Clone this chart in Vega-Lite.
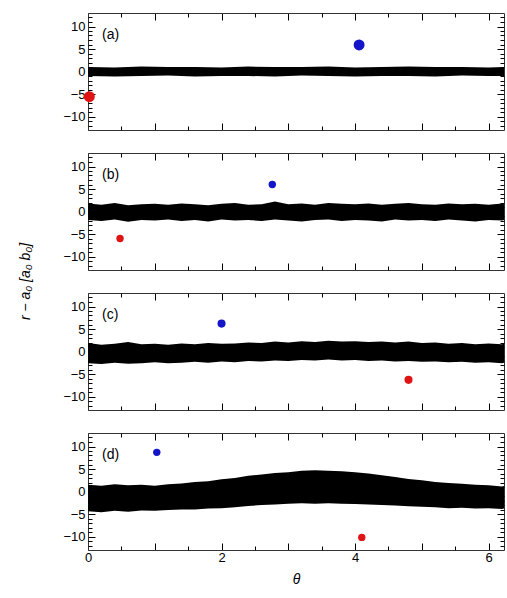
{
  "$schema": "https://vega.github.io/schema/vega-lite/v6.json",
  "padding": {"left": 18, "top": 12, "right": 2, "bottom": 4},
  "spacing": 23,
  "bounds": "flush",
  "config": {
    "view": {"stroke": null},
    "axis": {"grid": false, "domainColor": "#333", "tickColor": "#000", "labelColor": "#000", "labelFont": "Liberation Sans", "labelFontSize": 13, "labelFlush": false, "titleFont": "Liberation Sans", "titleColor": "#000", "titleFontWeight": "normal"}
  },
  "datasets": {
    "band": [
      {"p":"a","theta":0,"lo":-1.0,"hi":1.0},{"p":"a","theta":0.4,"lo":-1.1,"hi":0.9},{"p":"a","theta":0.8,"lo":-1.0,"hi":1.1},{"p":"a","theta":1.2,"lo":-0.9,"hi":1.0},{"p":"a","theta":1.6,"lo":-1.1,"hi":1.0},{"p":"a","theta":2.0,"lo":-1.0,"hi":0.9},{"p":"a","theta":2.4,"lo":-1.0,"hi":1.1},{"p":"a","theta":2.8,"lo":-1.1,"hi":1.0},{"p":"a","theta":3.2,"lo":-0.9,"hi":1.0},{"p":"a","theta":3.6,"lo":-1.0,"hi":1.1},{"p":"a","theta":4.0,"lo":-1.1,"hi":0.9},{"p":"a","theta":4.4,"lo":-1.0,"hi":1.0},{"p":"a","theta":4.8,"lo":-1.0,"hi":1.1},{"p":"a","theta":5.2,"lo":-1.1,"hi":1.0},{"p":"a","theta":5.6,"lo":-0.9,"hi":1.0},{"p":"a","theta":6.0,"lo":-1.0,"hi":0.9},{"p":"a","theta":6.23,"lo":-1.0,"hi":1.0},
      {"p":"b","theta":0,"lo":-1.9,"hi":1.8},{"p":"b","theta":0.2,"lo":-2.1,"hi":1.5},{"p":"b","theta":0.4,"lo":-1.8,"hi":1.9},{"p":"b","theta":0.6,"lo":-2.3,"hi":1.4},{"p":"b","theta":0.8,"lo":-1.9,"hi":1.6},{"p":"b","theta":1.0,"lo":-2.0,"hi":1.7},{"p":"b","theta":1.2,"lo":-1.8,"hi":1.5},{"p":"b","theta":1.4,"lo":-2.1,"hi":1.8},{"p":"b","theta":1.6,"lo":-1.9,"hi":1.6},{"p":"b","theta":1.8,"lo":-2.2,"hi":1.4},{"p":"b","theta":2.0,"lo":-1.8,"hi":1.7},{"p":"b","theta":2.2,"lo":-2.0,"hi":1.9},{"p":"b","theta":2.4,"lo":-1.9,"hi":1.5},{"p":"b","theta":2.6,"lo":-2.1,"hi":1.6},{"p":"b","theta":2.8,"lo":-1.8,"hi":2.2},{"p":"b","theta":3.0,"lo":-2.0,"hi":1.6},{"p":"b","theta":3.2,"lo":-2.2,"hi":1.8},{"p":"b","theta":3.4,"lo":-1.9,"hi":1.5},{"p":"b","theta":3.6,"lo":-1.8,"hi":1.9},{"p":"b","theta":3.8,"lo":-2.1,"hi":1.7},{"p":"b","theta":4.0,"lo":-1.9,"hi":1.6},{"p":"b","theta":4.2,"lo":-2.0,"hi":1.8},{"p":"b","theta":4.4,"lo":-2.2,"hi":1.5},{"p":"b","theta":4.6,"lo":-1.8,"hi":1.7},{"p":"b","theta":4.8,"lo":-2.0,"hi":1.9},{"p":"b","theta":5.0,"lo":-1.9,"hi":1.6},{"p":"b","theta":5.2,"lo":-2.1,"hi":1.5},{"p":"b","theta":5.4,"lo":-1.8,"hi":1.8},{"p":"b","theta":5.6,"lo":-2.0,"hi":1.6},{"p":"b","theta":5.8,"lo":-2.2,"hi":1.7},{"p":"b","theta":6.0,"lo":-1.9,"hi":1.5},{"p":"b","theta":6.2,"lo":-2.0,"hi":1.8},{"p":"b","theta":6.23,"lo":-1.9,"hi":1.6},
      {"p":"c","theta":0,"lo":-2.6,"hi":1.9},{"p":"c","theta":0.2,"lo":-2.8,"hi":1.5},{"p":"c","theta":0.4,"lo":-2.5,"hi":1.7},{"p":"c","theta":0.6,"lo":-2.7,"hi":2.1},{"p":"c","theta":0.8,"lo":-2.6,"hi":1.6},{"p":"c","theta":1.0,"lo":-2.4,"hi":1.7},{"p":"c","theta":1.2,"lo":-2.6,"hi":1.5},{"p":"c","theta":1.4,"lo":-2.5,"hi":1.8},{"p":"c","theta":1.6,"lo":-2.3,"hi":1.6},{"p":"c","theta":1.8,"lo":-2.5,"hi":1.9},{"p":"c","theta":2.0,"lo":-2.2,"hi":1.7},{"p":"c","theta":2.2,"lo":-2.4,"hi":1.8},{"p":"c","theta":2.4,"lo":-2.1,"hi":2.0},{"p":"c","theta":2.6,"lo":-2.2,"hi":1.9},{"p":"c","theta":2.8,"lo":-2.0,"hi":2.2},{"p":"c","theta":3.0,"lo":-2.1,"hi":2.0},{"p":"c","theta":3.2,"lo":-1.9,"hi":2.3},{"p":"c","theta":3.4,"lo":-2.0,"hi":2.1},{"p":"c","theta":3.6,"lo":-1.8,"hi":2.4},{"p":"c","theta":3.8,"lo":-2.0,"hi":2.2},{"p":"c","theta":4.0,"lo":-1.9,"hi":2.3},{"p":"c","theta":4.2,"lo":-2.1,"hi":2.1},{"p":"c","theta":4.4,"lo":-2.0,"hi":2.2},{"p":"c","theta":4.6,"lo":-2.2,"hi":2.0},{"p":"c","theta":4.8,"lo":-2.1,"hi":2.2},{"p":"c","theta":5.0,"lo":-2.3,"hi":1.9},{"p":"c","theta":5.2,"lo":-2.2,"hi":2.0},{"p":"c","theta":5.4,"lo":-2.4,"hi":1.7},{"p":"c","theta":5.6,"lo":-2.3,"hi":1.9},{"p":"c","theta":5.8,"lo":-2.5,"hi":1.6},{"p":"c","theta":6.0,"lo":-2.4,"hi":1.8},{"p":"c","theta":6.2,"lo":-2.6,"hi":1.6},{"p":"c","theta":6.23,"lo":-2.5,"hi":1.7},
      {"p":"d","theta":0,"lo":-4.4,"hi":1.5},{"p":"d","theta":0.2,"lo":-4.6,"hi":1.3},{"p":"d","theta":0.4,"lo":-4.3,"hi":1.6},{"p":"d","theta":0.6,"lo":-4.5,"hi":1.4},{"p":"d","theta":0.8,"lo":-4.2,"hi":1.5},{"p":"d","theta":1.0,"lo":-4.3,"hi":1.3},{"p":"d","theta":1.2,"lo":-4.1,"hi":1.6},{"p":"d","theta":1.4,"lo":-4.0,"hi":1.8},{"p":"d","theta":1.6,"lo":-4.0,"hi":2.1},{"p":"d","theta":1.8,"lo":-3.8,"hi":2.3},{"p":"d","theta":2.0,"lo":-3.7,"hi":2.7},{"p":"d","theta":2.2,"lo":-3.5,"hi":3.0},{"p":"d","theta":2.4,"lo":-3.2,"hi":3.5},{"p":"d","theta":2.6,"lo":-3.0,"hi":3.8},{"p":"d","theta":2.8,"lo":-2.9,"hi":4.1},{"p":"d","theta":3.0,"lo":-2.7,"hi":4.3},{"p":"d","theta":3.2,"lo":-2.6,"hi":4.6},{"p":"d","theta":3.4,"lo":-2.7,"hi":4.7},{"p":"d","theta":3.6,"lo":-2.6,"hi":4.6},{"p":"d","theta":3.8,"lo":-2.7,"hi":4.5},{"p":"d","theta":4.0,"lo":-2.8,"hi":4.3},{"p":"d","theta":4.2,"lo":-2.9,"hi":4.0},{"p":"d","theta":4.4,"lo":-3.0,"hi":3.6},{"p":"d","theta":4.6,"lo":-3.1,"hi":3.2},{"p":"d","theta":4.8,"lo":-3.3,"hi":2.8},{"p":"d","theta":5.0,"lo":-3.4,"hi":2.5},{"p":"d","theta":5.2,"lo":-3.5,"hi":2.1},{"p":"d","theta":5.4,"lo":-3.7,"hi":1.9},{"p":"d","theta":5.6,"lo":-3.6,"hi":1.7},{"p":"d","theta":5.8,"lo":-3.8,"hi":1.5},{"p":"d","theta":6.0,"lo":-3.7,"hi":1.4},{"p":"d","theta":6.2,"lo":-3.9,"hi":1.1},{"p":"d","theta":6.23,"lo":-3.8,"hi":1.2}
    ],
    "pts": [
      {"p":"a","kind":"blue","theta":4.06,"r":5.9},{"p":"a","kind":"red","theta":0.02,"r":-5.6},
      {"p":"b","kind":"blue","theta":2.76,"r":6.0},{"p":"b","kind":"red","theta":0.48,"r":-6.0},
      {"p":"c","kind":"blue","theta":2.0,"r":6.2},{"p":"c","kind":"red","theta":4.8,"r":-6.3},
      {"p":"d","kind":"blue","theta":1.03,"r":8.7},{"p":"d","kind":"red","theta":4.1,"r":-10.2}
    ],
    "lab": [
      {"p":"a","theta":0.21,"r":8.2,"label":"(a)"},
      {"p":"b","theta":0.21,"r":8.2,"label":"(b)"},
      {"p":"c","theta":0.21,"r":8.2,"label":"(c)"},
      {"p":"d","theta":0.21,"r":8.2,"label":"(d)"}
    ]
  },
  "vconcat": [
    {
      "width": 416, "height": 117,
      "resolve": {"axis": {"x": "independent", "y": "independent"}},
      "layer": [
        {"data": {"name": "band"}, "transform": [{"filter": "datum.p=='a'"}],
         "mark": {"type": "area", "color": "#000", "opacity": 1},
         "encoding": {
           "x": {"field": "theta", "type": "quantitative", "scale": {"domain": [0, 6.23], "nice": false, "zero": false}, "axis": {"orient": "bottom", "values": [0,1,2,3,4,5,6], "tickSize": -7, "labels": false, "title": null}},
           "y": {"field": "lo", "type": "quantitative", "scale": {"domain": [-13, 13], "nice": false}, "axis": {"orient": "left", "values": [-10,-5,0,5,10], "tickSize": -7, "labelPadding": 10, "title": null}},
           "y2": {"field": "hi"}}},
        {"data": {"name": "pts"}, "transform": [{"filter": "datum.p=='a' && datum.kind=='blue'"}],
         "mark": {"type": "circle", "color": "#1414c8", "opacity": 1, "size": 120},
         "encoding": {
           "x": {"field": "theta", "type": "quantitative", "scale": {"domain": [0, 6.23], "nice": false, "zero": false}, "axis": {"orient": "bottom", "values": [0.5,1.5,2.5,3.5,4.5,5.5], "tickSize": -4, "labels": false, "domain": false, "title": null}},
           "y": {"field": "r", "type": "quantitative", "scale": {"domain": [-13, 13], "nice": false}, "axis": {"orient": "left", "values": [-12,-11,-9,-8,-7,-6,-4,-3,-2,-1,1,2,3,4,6,7,8,9,11,12], "tickSize": -4, "labels": false, "domain": false, "title": null}}}},
        {"data": {"name": "pts"}, "transform": [{"filter": "datum.p=='a' && datum.kind=='red'"}],
         "mark": {"type": "circle", "color": "#e01414", "opacity": 1, "size": 120},
         "encoding": {
           "x": {"field": "theta", "type": "quantitative", "scale": {"domain": [0, 6.23], "nice": false, "zero": false}, "axis": {"orient": "top", "values": [0,1,2,3,4,5,6], "tickSize": -7, "labels": false, "title": null}},
           "y": {"field": "r", "type": "quantitative", "scale": {"domain": [-13, 13], "nice": false}, "axis": {"orient": "right", "values": [-10,-5,0,5,10], "tickSize": -7, "labels": false, "title": null}}}},
        {"data": {"name": "lab"}, "transform": [{"filter": "datum.p=='a'"}],
         "mark": {"type": "text", "align": "left", "baseline": "middle", "font": "Liberation Sans", "fontSize": 14, "color": "#000"},
         "encoding": {
           "text": {"field": "label"},
           "x": {"field": "theta", "type": "quantitative", "scale": {"domain": [0, 6.23], "nice": false, "zero": false}, "axis": {"orient": "top", "values": [0.5,1.5,2.5,3.5,4.5,5.5], "tickSize": -4, "labels": false, "domain": false, "title": null}},
           "y": {"field": "r", "type": "quantitative", "scale": {"domain": [-13, 13], "nice": false}, "axis": {"orient": "right", "values": [-12,-11,-9,-8,-7,-6,-4,-3,-2,-1,1,2,3,4,6,7,8,9,11,12], "tickSize": -4, "labels": false, "domain": false, "title": null}}}}
      ]
    },
    {
      "width": 416, "height": 117,
      "resolve": {"axis": {"x": "independent", "y": "independent"}},
      "layer": [
        {"data": {"name": "band"}, "transform": [{"filter": "datum.p=='b'"}],
         "mark": {"type": "area", "color": "#000", "opacity": 1},
         "encoding": {
           "x": {"field": "theta", "type": "quantitative", "scale": {"domain": [0, 6.23], "nice": false, "zero": false}, "axis": {"orient": "bottom", "values": [0,1,2,3,4,5,6], "tickSize": -7, "labels": false, "title": null}},
           "y": {"field": "lo", "type": "quantitative", "scale": {"domain": [-13, 13], "nice": false}, "axis": {"orient": "left", "values": [-10,-5,0,5,10], "tickSize": -7, "labelPadding": 10, "title": "r − a₀ [a₀ b₀]", "titleX": -63, "titleY": 128, "titleBaseline": "middle", "titleFontSize": 14, "titleFontStyle": "italic"}},
           "y2": {"field": "hi"}}},
        {"data": {"name": "pts"}, "transform": [{"filter": "datum.p=='b' && datum.kind=='blue'"}],
         "mark": {"type": "circle", "color": "#1414c8", "opacity": 1, "size": 55},
         "encoding": {
           "x": {"field": "theta", "type": "quantitative", "scale": {"domain": [0, 6.23], "nice": false, "zero": false}, "axis": {"orient": "bottom", "values": [0.5,1.5,2.5,3.5,4.5,5.5], "tickSize": -4, "labels": false, "domain": false, "title": null}},
           "y": {"field": "r", "type": "quantitative", "scale": {"domain": [-13, 13], "nice": false}, "axis": {"orient": "left", "values": [-12,-11,-9,-8,-7,-6,-4,-3,-2,-1,1,2,3,4,6,7,8,9,11,12], "tickSize": -4, "labels": false, "domain": false, "title": null}}}},
        {"data": {"name": "pts"}, "transform": [{"filter": "datum.p=='b' && datum.kind=='red'"}],
         "mark": {"type": "circle", "color": "#e01414", "opacity": 1, "size": 55},
         "encoding": {
           "x": {"field": "theta", "type": "quantitative", "scale": {"domain": [0, 6.23], "nice": false, "zero": false}, "axis": {"orient": "top", "values": [0,1,2,3,4,5,6], "tickSize": -7, "labels": false, "title": null}},
           "y": {"field": "r", "type": "quantitative", "scale": {"domain": [-13, 13], "nice": false}, "axis": {"orient": "right", "values": [-10,-5,0,5,10], "tickSize": -7, "labels": false, "title": null}}}},
        {"data": {"name": "lab"}, "transform": [{"filter": "datum.p=='b'"}],
         "mark": {"type": "text", "align": "left", "baseline": "middle", "font": "Liberation Sans", "fontSize": 14, "color": "#000"},
         "encoding": {
           "text": {"field": "label"},
           "x": {"field": "theta", "type": "quantitative", "scale": {"domain": [0, 6.23], "nice": false, "zero": false}, "axis": {"orient": "top", "values": [0.5,1.5,2.5,3.5,4.5,5.5], "tickSize": -4, "labels": false, "domain": false, "title": null}},
           "y": {"field": "r", "type": "quantitative", "scale": {"domain": [-13, 13], "nice": false}, "axis": {"orient": "right", "values": [-12,-11,-9,-8,-7,-6,-4,-3,-2,-1,1,2,3,4,6,7,8,9,11,12], "tickSize": -4, "labels": false, "domain": false, "title": null}}}}
      ]
    },
    {
      "width": 416, "height": 117,
      "resolve": {"axis": {"x": "independent", "y": "independent"}},
      "layer": [
        {"data": {"name": "band"}, "transform": [{"filter": "datum.p=='c'"}],
         "mark": {"type": "area", "color": "#000", "opacity": 1},
         "encoding": {
           "x": {"field": "theta", "type": "quantitative", "scale": {"domain": [0, 6.23], "nice": false, "zero": false}, "axis": {"orient": "bottom", "values": [0,1,2,3,4,5,6], "tickSize": -7, "labels": false, "title": null}},
           "y": {"field": "lo", "type": "quantitative", "scale": {"domain": [-13, 13], "nice": false}, "axis": {"orient": "left", "values": [-10,-5,0,5,10], "tickSize": -7, "labelPadding": 10, "title": null}},
           "y2": {"field": "hi"}}},
        {"data": {"name": "pts"}, "transform": [{"filter": "datum.p=='c' && datum.kind=='blue'"}],
         "mark": {"type": "circle", "color": "#1414c8", "opacity": 1, "size": 65},
         "encoding": {
           "x": {"field": "theta", "type": "quantitative", "scale": {"domain": [0, 6.23], "nice": false, "zero": false}, "axis": {"orient": "bottom", "values": [0.5,1.5,2.5,3.5,4.5,5.5], "tickSize": -4, "labels": false, "domain": false, "title": null}},
           "y": {"field": "r", "type": "quantitative", "scale": {"domain": [-13, 13], "nice": false}, "axis": {"orient": "left", "values": [-12,-11,-9,-8,-7,-6,-4,-3,-2,-1,1,2,3,4,6,7,8,9,11,12], "tickSize": -4, "labels": false, "domain": false, "title": null}}}},
        {"data": {"name": "pts"}, "transform": [{"filter": "datum.p=='c' && datum.kind=='red'"}],
         "mark": {"type": "circle", "color": "#e01414", "opacity": 1, "size": 65},
         "encoding": {
           "x": {"field": "theta", "type": "quantitative", "scale": {"domain": [0, 6.23], "nice": false, "zero": false}, "axis": {"orient": "top", "values": [0,1,2,3,4,5,6], "tickSize": -7, "labels": false, "title": null}},
           "y": {"field": "r", "type": "quantitative", "scale": {"domain": [-13, 13], "nice": false}, "axis": {"orient": "right", "values": [-10,-5,0,5,10], "tickSize": -7, "labels": false, "title": null}}}},
        {"data": {"name": "lab"}, "transform": [{"filter": "datum.p=='c'"}],
         "mark": {"type": "text", "align": "left", "baseline": "middle", "font": "Liberation Sans", "fontSize": 14, "color": "#000"},
         "encoding": {
           "text": {"field": "label"},
           "x": {"field": "theta", "type": "quantitative", "scale": {"domain": [0, 6.23], "nice": false, "zero": false}, "axis": {"orient": "top", "values": [0.5,1.5,2.5,3.5,4.5,5.5], "tickSize": -4, "labels": false, "domain": false, "title": null}},
           "y": {"field": "r", "type": "quantitative", "scale": {"domain": [-13, 13], "nice": false}, "axis": {"orient": "right", "values": [-12,-11,-9,-8,-7,-6,-4,-3,-2,-1,1,2,3,4,6,7,8,9,11,12], "tickSize": -4, "labels": false, "domain": false, "title": null}}}}
      ]
    },
    {
      "width": 416, "height": 117,
      "resolve": {"axis": {"x": "independent", "y": "independent"}},
      "layer": [
        {"data": {"name": "band"}, "transform": [{"filter": "datum.p=='d'"}],
         "mark": {"type": "area", "color": "#000", "opacity": 1},
         "encoding": {
           "x": {"field": "theta", "type": "quantitative", "scale": {"domain": [0, 6.23], "nice": false, "zero": false}, "axis": {"orient": "bottom", "values": [0,1,2,3,4,5,6], "tickSize": -7, "labelPadding": 8, "labelExpr": "datum.value % 2 === 0 ? datum.label : ''", "title": "θ", "titleFontSize": 14, "titleFontStyle": "italic", "titlePadding": 8}},
           "y": {"field": "lo", "type": "quantitative", "scale": {"domain": [-13, 13], "nice": false}, "axis": {"orient": "left", "values": [-10,-5,0,5,10], "tickSize": -7, "labelPadding": 10, "title": null}},
           "y2": {"field": "hi"}}},
        {"data": {"name": "pts"}, "transform": [{"filter": "datum.p=='d' && datum.kind=='blue'"}],
         "mark": {"type": "circle", "color": "#1414c8", "opacity": 1, "size": 55},
         "encoding": {
           "x": {"field": "theta", "type": "quantitative", "scale": {"domain": [0, 6.23], "nice": false, "zero": false}, "axis": {"orient": "bottom", "values": [0.5,1.5,2.5,3.5,4.5,5.5], "tickSize": -4, "labels": false, "domain": false, "title": null}},
           "y": {"field": "r", "type": "quantitative", "scale": {"domain": [-13, 13], "nice": false}, "axis": {"orient": "left", "values": [-12,-11,-9,-8,-7,-6,-4,-3,-2,-1,1,2,3,4,6,7,8,9,11,12], "tickSize": -4, "labels": false, "domain": false, "title": null}}}},
        {"data": {"name": "pts"}, "transform": [{"filter": "datum.p=='d' && datum.kind=='red'"}],
         "mark": {"type": "circle", "color": "#e01414", "opacity": 1, "size": 55},
         "encoding": {
           "x": {"field": "theta", "type": "quantitative", "scale": {"domain": [0, 6.23], "nice": false, "zero": false}, "axis": {"orient": "top", "values": [0,1,2,3,4,5,6], "tickSize": -7, "labels": false, "title": null}},
           "y": {"field": "r", "type": "quantitative", "scale": {"domain": [-13, 13], "nice": false}, "axis": {"orient": "right", "values": [-10,-5,0,5,10], "tickSize": -7, "labels": false, "title": null}}}},
        {"data": {"name": "lab"}, "transform": [{"filter": "datum.p=='d'"}],
         "mark": {"type": "text", "align": "left", "baseline": "middle", "font": "Liberation Sans", "fontSize": 14, "color": "#000"},
         "encoding": {
           "text": {"field": "label"},
           "x": {"field": "theta", "type": "quantitative", "scale": {"domain": [0, 6.23], "nice": false, "zero": false}, "axis": {"orient": "top", "values": [0.5,1.5,2.5,3.5,4.5,5.5], "tickSize": -4, "labels": false, "domain": false, "title": null}},
           "y": {"field": "r", "type": "quantitative", "scale": {"domain": [-13, 13], "nice": false}, "axis": {"orient": "right", "values": [-12,-11,-9,-8,-7,-6,-4,-3,-2,-1,1,2,3,4,6,7,8,9,11,12], "tickSize": -4, "labels": false, "domain": false, "title": null}}}}
      ]
    }
  ]
}
